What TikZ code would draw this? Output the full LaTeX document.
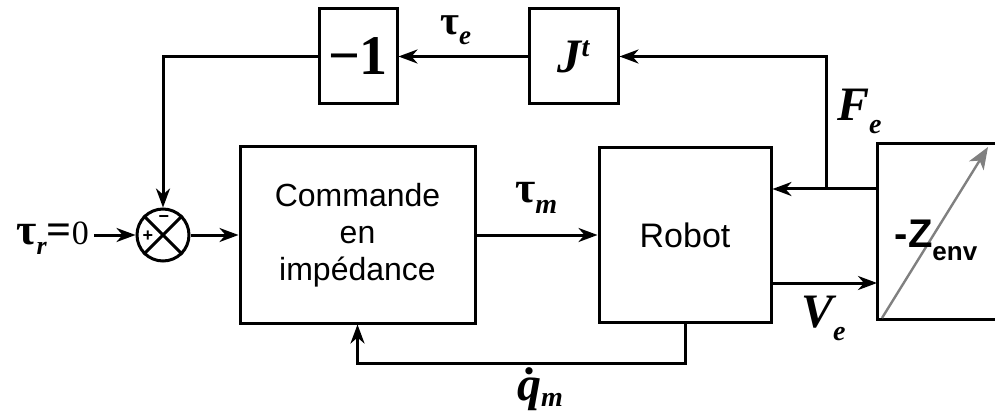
\documentclass[tikz,border=0pt]{standalone}
\usepackage{fontspec}
\setmainfont{Liberation Sans}
\newfontfamily\tms{Liberation Serif}
\usetikzlibrary{arrows.meta}
\begin{document}
\begin{tikzpicture}[x=1pt,y=-1pt,
  ln/.style={line width=3pt},
  arr/.style={ln,-{Stealth[length=19pt,width=14pt,inset=6pt]}},
  blk/.style={draw,ln,inner sep=0pt,align=center},
  sans/.style={font=\fontsize{32}{37}\selectfont},
  mth/.style={font=\tms\bfseries\fontsize{44}{44}\selectfont, inner sep=0pt, anchor=base west},
  bigit/.style={font=\tms\bfseries\itshape\fontsize{48}{48}\selectfont},
]
\useasboundingbox (0,0) rectangle (995,414);
% blocks
\node[blk,minimum width=78pt,minimum height=95pt,font=\tms\bfseries\fontsize{56}{56}\selectfont] (neg) at (358,56.5) {−1};
\node[blk,minimum width=89pt,minimum height=95pt,bigit] (J) at (573.5,56.5) {J\raisebox{16pt}{\fontsize{28}{28}\selectfont t}};
\node[blk,sans,minimum width=235pt,minimum height=176pt] (cmd) at (357.5,235) {Commande\\en\\impédance};
\node[blk,sans,minimum width=172pt,minimum height=175pt] (rob) at (685,235) {\fontsize{34}{34}\selectfont Robot};
\node[draw,ln,circle,minimum size=52pt,inner sep=0pt] (sum) at (163,235) {};
\draw[ln] (sum.north west) -- (sum.south east) (sum.north east) -- (sum.south west);
\node[font=\bfseries\fontsize{18}{18}\selectfont,inner sep=0pt] (plus) at (148,236) {+};
\node[font=\bfseries\fontsize{18}{18}\selectfont,inner sep=0pt] (minus) at (164,219) {−};
% environment block (right side cut by the page edge)
\node[minimum width=118pt,minimum height=175pt,anchor=north west,inner sep=0pt] (env) at (877,144) {};
\draw[ln] (env.north east) -- (env.north west) -- (env.south west) -- (env.south east);
\coordinate (g1) at (882,318);
\coordinate (g2) at (988,147);
\draw[line width=2.4pt,gray,-{Stealth[length=22pt,width=17pt,inset=6pt]}] (g1) -- (g2);
\node[font=\bfseries\fontsize{40}{40}\selectfont,inner sep=0pt] (zl) at (936,240) {-Z\raisebox{-13pt}{\fontsize{26}{26}\selectfont env}};
% input label
\node[mth,anchor=base east] (tr) at (89,244) {τ\raisebox{-10pt}{\itshape\fontsize{26}{26}\selectfont r}=\mdseries\fontsize{34}{34}\selectfont 0};
% signal labels
\node[mth,font=\tms\bfseries\fontsize{41}{41}\selectfont] (te) at (440,35) {τ\raisebox{-10pt}{\itshape\fontsize{27}{27}\selectfont e}};
\node[mth] (tm) at (515,202) {τ\raisebox{-11pt}{\itshape\fontsize{28}{28}\selectfont m}};
\node[mth,bigit] (fl) at (837,121) {F\raisebox{-13pt}{\fontsize{28}{28}\selectfont e}};
\node[mth,bigit] (vl) at (801,327) {V\raisebox{-13pt}{\fontsize{28}{28}\selectfont e}};
\node[mth,bigit] (ql) at (517,400) {q̇\raisebox{-6pt}{\fontsize{28}{28}\selectfont m}};
% connection points
\coordinate (pf) at (877,189);
\coordinate (pv) at (877,283);
\coordinate (jn) at (826,189);
% connectors
\draw[arr] (pf) -- (rob.east |- pf);
\draw[arr] (jn) |- (J.east);
\draw[arr] (J.west) -- (neg.east);
\draw[arr] (neg.west) -| (sum.north);
\draw[arr] (tr.east |- sum.west) ++(5,0) -- (sum.west);
\draw[arr] (sum.east) -- (cmd.west);
\draw[arr] (cmd.east) -- (rob.west);
\draw[arr] (rob.east |- pv) -- (pv);
\draw[arr] (rob.south) -- ++(0,39) -| (cmd.south);
\end{tikzpicture}
\end{document}
